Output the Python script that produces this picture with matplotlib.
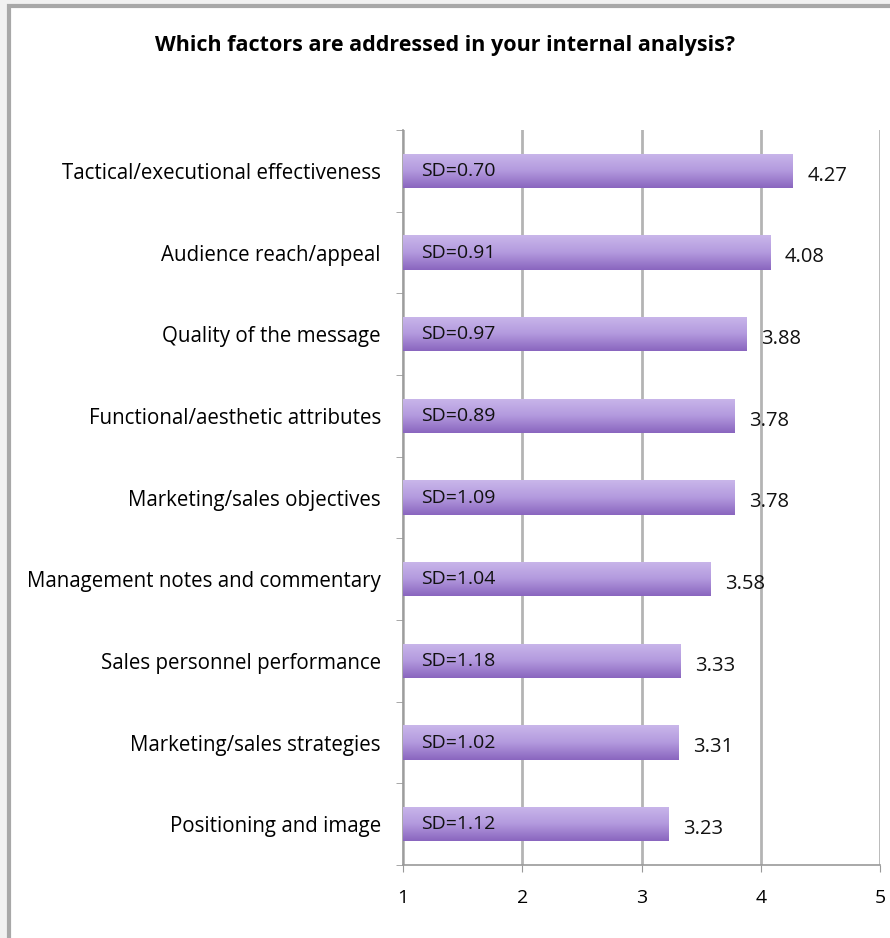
import numpy as np
import matplotlib.pyplot as plt
from matplotlib.patches import Rectangle

categories = [
    "Tactical/executional effectiveness",
    "Audience reach/appeal",
    "Quality of the message",
    "Functional/aesthetic attributes",
    "Marketing/sales objectives",
    "Management notes and commentary",
    "Sales personnel performance",
    "Marketing/sales strategies",
    "Positioning and image",
]
means = [4.27, 4.08, 3.88, 3.78, 3.78, 3.58, 3.33, 3.31, 3.23]
sds = ["0.70", "0.91", "0.97", "0.89", "1.09", "1.04", "1.18", "1.02", "1.12"]
xticks = [1, 2, 3, 4, 5]

plt.rcParams['font.family'] = ['Open Sans', 'DejaVu Sans']

W, H = 890, 938
fig = plt.figure(figsize=(W / 100, H / 100), dpi=100)
fig.patch.set_facecolor('#f1f1f1')

# white panel with grey frame (partly cropped at right/bottom)
fig.patches.append(Rectangle((9 / W, -0.01), (W - 9 + 10) / W, 1 - 6 / H + 0.01,
                             transform=fig.transFigure, facecolor='white',
                             edgecolor='#a8a8a8', linewidth=3, zorder=-5))

ax = fig.add_axes([403 / W, 1 - 865 / H, (880 - 403) / W, (865 - 130) / H])
ax.set_facecolor('none')
ax.set_zorder(2)

n = len(categories)
ypos = np.arange(n)[::-1]
bars = ax.barh(ypos, [m - 1 for m in means], left=1, height=0.42,
               color='#a98bd6', zorder=2)

# vertical gradient on each bar, light on top, darker at the bottom
grad = np.linspace(0, 1, 64).reshape(-1, 1)
cmap = plt.matplotlib.colors.LinearSegmentedColormap.from_list(
    'p', ['#c9b6ea', '#b39ade', '#8a66bf'])
for b in bars:
    x0, y0, w, h = b.get_x(), b.get_y(), b.get_width(), b.get_height()
    im = ax.imshow(grad, cmap=cmap, aspect='auto', origin='upper',
                   extent=[x0, x0 + w, y0, y0 + h], zorder=3)
    im.set_clip_path(b)

for y, m, sd in zip(ypos, means, sds):
    ax.text(1.15, y, f"SD={sd}", va='center', ha='left', fontsize=14,
            color='#111111', zorder=4)
    ax.text(m + 0.12, y - 0.06, f"{m:.2f}", va='center', ha='left',
            fontsize=14.5, color='#111111', zorder=4)

ax.set_xlim(1, 5)
ax.set_ylim(-0.5, n - 0.5)
ax.set_xticks(xticks)
ax.set_xticklabels([str(t) for t in xticks], fontsize=14)
ax.set_yticks(ypos)
ax.set_yticklabels(categories, fontsize=14.8)
ax.set_yticks(np.arange(-0.5, n), minor=True)
ax.tick_params(axis='y', which='major', length=0, pad=16)
ax.tick_params(axis='y', which='minor', length=5, color='#999999')
ax.tick_params(axis='x', length=5, color='#999999', pad=12)

ax.grid(axis='x', color='#b4b4b4', linewidth=2, zorder=1)
for s in ['top', 'right']:
    ax.spines[s].set_visible(False)
for s in ['left', 'bottom']:
    ax.spines[s].set_color('#999999')
    ax.spines[s].set_linewidth(1.2)

fig.text(445 / W, 1 - 45 / H, "Which factors are addressed in your internal analysis?",
         ha='center', va='center', fontsize=15.5, fontweight='bold')

fig.savefig('out.png', dpi=100, facecolor=fig.get_facecolor())
